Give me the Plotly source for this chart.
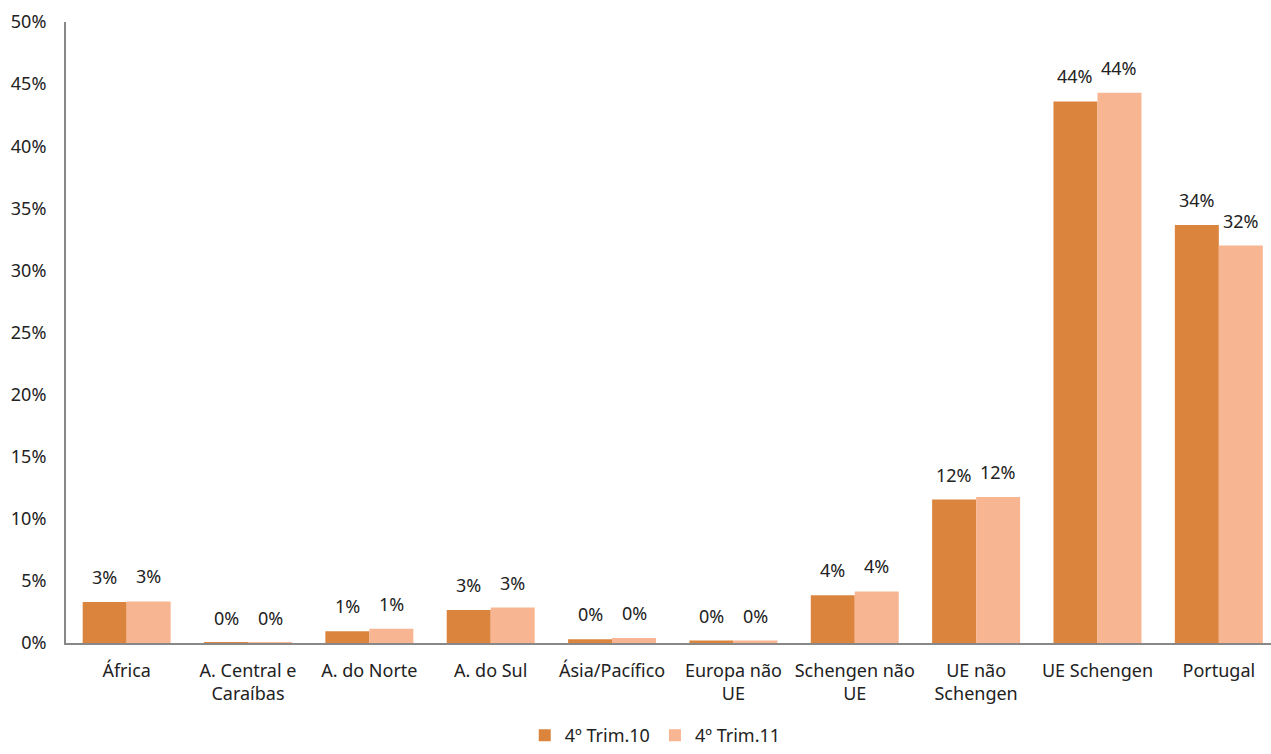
import plotly.graph_objects as go

categories = ["África", "A. Central e<br>Caraíbas", "A. do Norte", "A. do Sul", "Ásia/Pacífico",
              "Europa não<br>UE", "Schengen não<br>UE", "UE não<br>Schengen", "UE Schengen", "Portugal"]
series_names = ["4º Trim.10", "4º Trim.11"]
trim10 = [3.3, 0.03, 0.95, 2.65, 0.3, 0.2, 3.85, 11.55, 43.6, 33.65]
trim11 = [3.35, 0.03, 1.15, 2.85, 0.4, 0.2, 4.15, 11.75, 44.3, 32.0]
colors = ["#DB843D", "#F8B591"]

FONT = "Noto Sans"
FS = 18
bargap = 0.275
bw = (1 - bargap) / 2

fig = go.Figure()
for name, vals, col in zip(series_names, [trim10, trim11], colors):
    fig.add_trace(go.Bar(x=categories, y=vals, name=name, marker=dict(color=col, line=dict(width=0)),
                         hoverinfo="skip"))

for k, vals in enumerate([trim10, trim11]):
    off = (k - 0.5) * bw
    for i, v in enumerate(vals):
        fig.add_annotation(x=i + off, y=v, xref="x", yref="y", text=f"{v:.0f}%", showarrow=False,
                           yshift=25, font=dict(family=FONT, size=FS, color="#222"))

fig.update_layout(
    width=1271, height=754,
    margin=dict(l=66, r=0, t=22, b=111, autoexpand=False),
    paper_bgcolor="white", plot_bgcolor="white",
    barmode="group", bargap=bargap, bargroupgap=0,
    font=dict(family=FONT, size=FS, color="#222"),
    showlegend=True,
    legend=dict(orientation="h", x=0.489, xanchor="center", y=0.0, yanchor="bottom",
                yref="container", font=dict(family=FONT, size=FS), itemsizing="constant",
                traceorder="normal", itemwidth=30),
    xaxis=dict(type="category", range=[-0.5, 9.43], showline=True, linecolor="#888888", linewidth=2,
               ticks="", showgrid=False, tickfont=dict(family=FONT, size=FS), fixedrange=True,
               automargin=False, ticklabelstandoff=10),
    yaxis=dict(range=[0, 50], dtick=5, ticksuffix="%", showline=True, linecolor="#888888", linewidth=2,
               ticks="", showgrid=False, zeroline=False, tickfont=dict(family=FONT, size=FS),
               ticklabelstandoff=14, fixedrange=True, automargin=False),
)
fig.write_html("out.html", config={"displayModeBar": False},
               post_script="document.body.style.margin='0';document.body.style.overflow='hidden';")
